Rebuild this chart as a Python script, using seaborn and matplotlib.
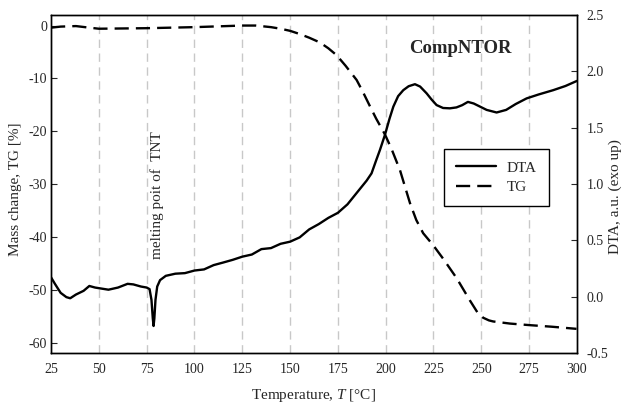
import numpy as np
import pandas as pd
import matplotlib
matplotlib.use("Agg")
import matplotlib.pyplot as plt
from matplotlib.ticker import FormatStrFormatter
import seaborn as sns

# DTA curve (right axis, a.u.)
dta_temp = [25, 27, 30, 33, 35, 38, 42, 45, 48, 55, 60, 65, 68, 72, 75, 76.5, 77.5,
            78.2, 78.6, 79, 79.6, 80.5, 82, 85, 90, 95, 100, 105, 110, 115, 120, 125,
            130, 135, 140, 145, 150, 155, 160, 165, 170, 175, 180, 185, 190, 192.6,
            195, 197, 199.6, 202, 204, 206.5, 209.2, 212, 215.3, 218, 221.4, 224,
            226.6, 230, 233.6, 237, 240, 243, 246, 249, 252.8, 258, 263, 268, 273.7,
            280, 287.6, 294, 300]
dta_val = [0.172, 0.115, 0.035, -0.003, -0.013, 0.020, 0.053, 0.096, 0.082, 0.063,
           0.082, 0.115, 0.110, 0.091, 0.082, 0.068, -0.027, -0.193, -0.259, -0.193,
           -0.027, 0.091, 0.148, 0.186, 0.205, 0.210, 0.233, 0.243, 0.281, 0.304,
           0.328, 0.356, 0.375, 0.423, 0.432, 0.470, 0.489, 0.527, 0.598, 0.645,
           0.700, 0.745, 0.820, 0.925, 1.030, 1.095, 1.210, 1.303, 1.436, 1.580,
           1.687, 1.780, 1.833, 1.868, 1.886, 1.865, 1.805, 1.750, 1.701, 1.675,
           1.672, 1.680, 1.700, 1.729, 1.715, 1.690, 1.658, 1.635, 1.658, 1.710,
           1.760, 1.795, 1.833, 1.870, 1.915]

# TG curve (left axis, %)
tg_temp = [25, 30, 38, 45, 50, 75, 100, 125, 132, 140, 145, 150, 155, 160, 165.6,
           170, 174.3, 179, 184.8, 188, 191.8, 195, 199.6, 203, 207.5, 212.7, 216,
           219.6, 224.9, 230, 237.1, 244, 248, 251, 254, 256.2, 265, 275.4, 287, 299.8]
tg_val = [-0.4, -0.2, -0.1, -0.4, -0.6, -0.5, -0.3, 0.0, 0.0, -0.3, -0.6, -1.0,
          -1.6, -2.3, -3.2, -4.3, -5.6, -7.6, -10.3, -12.5, -15.3, -17.6, -20.6,
          -23.3, -27.4, -33.6, -36.8, -39.3, -41.6, -44.1, -47.8, -52.0, -54.3,
          -55.3, -55.8, -56.0, -56.4, -56.7, -57.0, -57.4]

dta = pd.DataFrame({"T": dta_temp, "DTA": dta_val})
tg = pd.DataFrame({"T": tg_temp, "TG": tg_val})

sns.set_style("ticks")
plt.rcParams["font.family"] = ["Liberation Serif", "DejaVu Serif"]
plt.rcParams["mathtext.fontset"] = "custom"
plt.rcParams["mathtext.it"] = "Liberation Serif:italic"
plt.rcParams["mathtext.rm"] = "Liberation Serif"
plt.rcParams["axes.unicode_minus"] = False

fig, ax = plt.subplots(figsize=(6.23, 4.05), dpi=100)
fig.subplots_adjust(left=0.082, right=0.926, top=0.963, bottom=0.128)
ax2 = ax.twinx()

# vertical dashed grid
for t in range(50, 300, 25):
    ax.axvline(t, color="#c8c8c8", lw=1.0, ls=(0, (6, 4)), zorder=0)

sns.lineplot(data=tg, x="T", y="TG", ax=ax, color="black", lw=1.7,
             linestyle=(0, (6, 3)), legend=False)
sns.lineplot(data=dta, x="T", y="DTA", ax=ax2, color="black", lw=1.7, legend=False)

ax.set_xlim(25, 300)
ax.set_ylim(-62, 2)
ax2.set_ylim(-0.5, 2.5)
ax.set_xticks(range(25, 301, 25))
ax.set_yticks(range(-60, 1, 10))
ax2.set_yticks(np.arange(-0.5, 2.51, 0.5))
ax2.yaxis.set_major_formatter(FormatStrFormatter("%.1f"))

ax.tick_params(axis="x", length=0, pad=7, labelsize=10)
ax.tick_params(axis="y", direction="in", length=4, pad=3, labelsize=10)
ax2.tick_params(axis="y", direction="in", length=4, pad=7, labelsize=10)

for a in (ax, ax2):
    for s in a.spines.values():
        s.set_visible(True)
        s.set_linewidth(1.0)
        s.set_color("black")

ax.set_xlabel("Temperature, $T$ [°C]", fontsize=11, labelpad=8)
ax.set_ylabel("Mass change, TG [%]", fontsize=11)
ax2.set_ylabel("DTA, a.u. (exo up)", fontsize=11)
ax.yaxis.set_label_coords(-0.055, 0.485)
ax2.yaxis.set_label_coords(1.061, 0.464)

ax.text(80.5, -32, "melting poit of  TNT", rotation=90, ha="center", va="center",
        fontsize=11)
ax.text(238.8, -4.3, "CompNTOR", ha="center", va="center", fontsize=13.5,
        fontweight="bold")

handles = [plt.Line2D([], [], color="black", lw=1.7),
           plt.Line2D([], [], color="black", lw=1.7, linestyle=(0, (6, 3)))]
leg = ax2.legend(handles, ["DTA", "TG"], loc="upper left",
                 bbox_to_anchor=(0.747, 0.604), borderaxespad=0, fancybox=False,
                 framealpha=1, edgecolor="black", fontsize=11, handlelength=2.6,
                 handletextpad=0.7, borderpad=0.8, labelspacing=0.35)
leg.get_frame().set_linewidth(1.0)

fig.savefig("out.png", dpi=100)
